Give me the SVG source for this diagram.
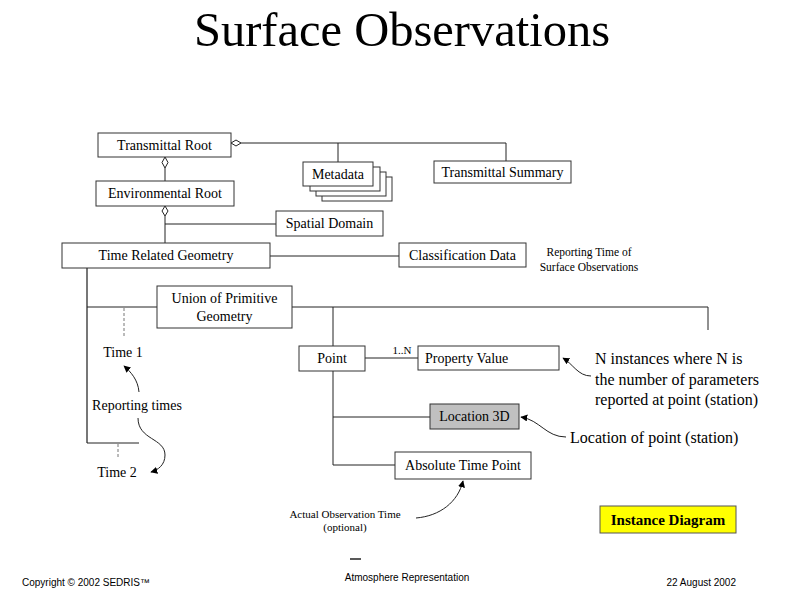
<svg xmlns="http://www.w3.org/2000/svg" width="800" height="600" viewBox="0 0 800 600">
<defs>
<marker id="ah" viewBox="0 0 10 10" refX="9" refY="5" markerWidth="7" markerHeight="7" orient="auto" markerUnits="userSpaceOnUse">
<path d="M0,0 L10,5 L0,10 z" fill="#000"/>
</marker>
<style>
.box{fill:#fff;stroke:#333;stroke-width:1}
.t{font-family:"Liberation Serif","Times New Roman",serif;font-size:14px;fill:#000;text-anchor:middle}
.ts{font-family:"Liberation Serif","Times New Roman",serif;font-size:14px;fill:#000;text-anchor:start}
.ln{fill:none;stroke:#222;stroke-width:1}
.gl{fill:none;stroke:#777;stroke-width:2}
.dash{fill:none;stroke:#777;stroke-width:1;stroke-dasharray:3,2}
.cv{fill:none;stroke:#222;stroke-width:1;marker-end:url(#ah)}
.dia{fill:#fff;stroke:#222;stroke-width:1}
.note{font-family:"Liberation Serif","Times New Roman",serif;fill:#000}
.foot{font-family:"Liberation Sans",Arial,sans-serif;font-size:10px;fill:#000}
</style>
</defs>
<rect width="800" height="600" fill="#fff"/>
<text x="402" y="46" class="note" font-size="48.5" text-anchor="middle">Surface Observations</text>

<g id="connectors">
<line class="ln" x1="241" y1="143" x2="506" y2="143"/>
<line class="ln" x1="338" y1="143" x2="338" y2="162"/>
<line class="ln" x1="506" y1="143" x2="506" y2="161"/>
<path class="dia" d="M231,143 L236,140 L241,143 L236,146 z"/>
<line class="ln" x1="165" y1="168" x2="165" y2="181"/>
<path class="dia" d="M165,157 L168,162.5 L165,168 L162,162.5 z"/>
<line class="ln" x1="165" y1="216" x2="165" y2="243"/>
<path class="dia" d="M165,206 L168,211 L165,216 L162,211 z"/>
<line class="ln" x1="165" y1="224" x2="276" y2="224"/>
<line class="ln" x1="270" y1="256" x2="399" y2="256"/>
<line class="gl" x1="87" y1="268" x2="87" y2="443"/>
<line class="ln" x1="87" y1="307" x2="157" y2="307"/>
<line class="ln" x1="87" y1="443" x2="139" y2="443"/>
<line class="dash" x1="124" y1="308" x2="124" y2="338"/>
<line class="dash" x1="118" y1="444" x2="118" y2="458"/>
<polyline class="ln" points="292,307 708,307 708,330"/>
<line class="ln" x1="333" y1="307" x2="333" y2="346"/>
<line class="ln" x1="333" y1="371" x2="333" y2="465"/>
<line class="ln" x1="333" y1="417" x2="430" y2="417"/>
<line class="ln" x1="333" y1="465" x2="395" y2="465"/>
<line class="ln" x1="365" y1="358" x2="418" y2="358"/>
<text x="402" y="354" class="note" font-size="11" text-anchor="middle">1..N</text>
<path class="cv" d="M591,376 C578,376 573,364 563,358"/>
<path class="cv" d="M566,437 C546,437 540,420 521,417"/>
<path class="cv" d="M416,518 C440,516 458,502 463,481"/>
<path class="cv" d="M139,392 C138,380 131,372 124,366"/>
<path class="cv" d="M138,418 C138,440 165,438 165,455 C165,465 158,470 151,472"/>
<line x1="350" y1="559" x2="361" y2="559" stroke="#222" stroke-width="1.5"/>
</g>

<g id="transmittal-root"><rect class="box" x="98" y="133" width="133" height="24"/><text class="t" x="164.5" y="150">Transmittal Root</text></g>
<g id="metadata">
<rect class="box" x="322" y="177" width="70" height="24"/>
<rect class="box" x="316" y="172" width="70" height="24"/>
<rect class="box" x="310" y="167" width="70" height="24"/>
<rect class="box" x="303" y="162" width="70" height="24"/>
<text class="t" x="338" y="179">Metadata</text></g>
<g id="transmittal-summary"><rect class="box" x="434" y="161" width="137" height="22"/><text class="t" x="502.5" y="177">Transmittal Summary</text></g>
<g id="environmental-root"><rect class="box" x="96" y="181" width="138" height="25"/><text class="t" x="165" y="198">Environmental Root</text></g>
<g id="spatial-domain"><rect class="box" x="276" y="211" width="107" height="25"/><text class="t" x="329.5" y="228">Spatial Domain</text></g>
<g id="time-related-geometry"><rect class="box" x="62" y="243" width="208" height="25"/><text class="t" x="166" y="260">Time Related Geometry</text></g>
<g id="classification-data"><rect class="box" x="399" y="243" width="127" height="24"/><text class="t" x="462.5" y="260">Classification Data</text></g>
<g id="union"><rect class="box" x="157" y="286" width="135" height="42"/><text class="t" x="224.5" y="303">Union of Primitive</text><text class="t" x="224.5" y="321">Geometry</text></g>
<g id="point"><rect class="box" x="299" y="346" width="66" height="25"/><text class="t" x="332" y="363">Point</text></g>
<g id="property-value"><rect class="box" x="418" y="346" width="141" height="24"/><text class="ts" x="425" y="363">Property Value</text></g>
<g id="location-3d"><rect x="430" y="404" width="89" height="25" fill="#c0c0c0" stroke="#333"/><text class="t" x="474.5" y="421">Location 3D</text></g>
<g id="absolute-time-point"><rect class="box" x="395" y="452" width="136" height="27"/><text class="t" x="463" y="470">Absolute Time Point</text></g>

<g id="notes">
<text class="note" font-size="11.5" x="589" y="256" text-anchor="middle">Reporting Time of</text>
<text class="note" font-size="11.5" x="589" y="271" text-anchor="middle">Surface Observations</text>
<text class="note" font-size="14" x="123" y="357" text-anchor="middle">Time 1</text>
<text class="note" font-size="14" x="137" y="410" text-anchor="middle">Reporting times</text>
<text class="note" font-size="14" x="117" y="477" text-anchor="middle">Time 2</text>
<text class="note" font-size="16" x="595" y="364">N instances where N is</text>
<text class="note" font-size="16" x="595" y="385">the number of parameters</text>
<text class="note" font-size="16" x="595" y="405">reported at point (station)</text>
<text class="note" font-size="16" x="570" y="443">Location of point (station)</text>
<text class="note" font-size="11" x="345" y="518" text-anchor="middle">Actual Observation Time</text>
<text class="note" font-size="11" x="345" y="531" text-anchor="middle">(optional)</text>
</g>
<g id="instance-diagram"><rect x="600" y="506" width="136" height="27" fill="#ffff00" stroke="#555"/><text class="note" font-size="15" font-weight="bold" x="668" y="525" text-anchor="middle">Instance Diagram</text></g>
<text class="foot" x="22" y="586">Copyright © 2002 SEDRIS™</text>
<text class="foot" x="407" y="581" text-anchor="middle">Atmosphere Representation</text>
<text class="foot" x="736" y="586" text-anchor="end">22 August 2002</text>
</svg>
